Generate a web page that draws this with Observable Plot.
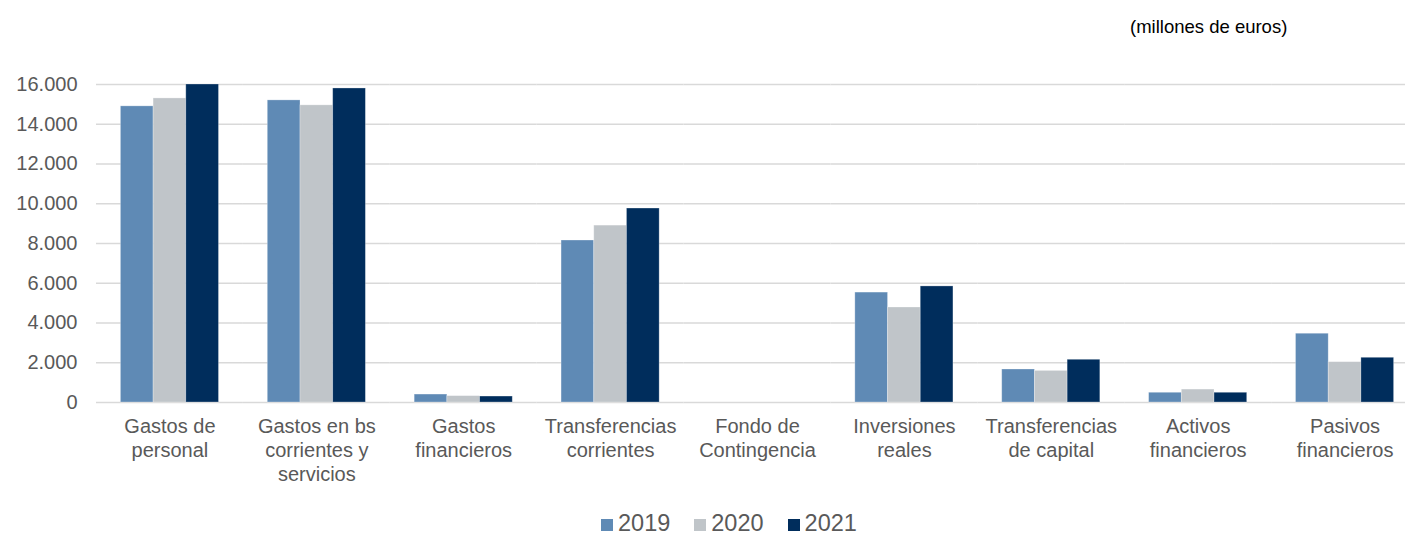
<!DOCTYPE html>
<html>
<head>
<meta charset="utf-8">
<script src="https://cdn.jsdelivr.net/npm/d3@7"></script>
<script src="https://cdn.jsdelivr.net/npm/@observablehq/plot@0.6"></script>
<style>
  html, body { margin: 0; padding: 0; background: #fff; }
  body { position: relative; width: 1405px; height: 533px; overflow: hidden; font-family: "Liberation Sans", Arial, sans-serif; color: #595959; }
  #note { position: absolute; left: 1130px; top: 16px; font-size: 18.5px; color: #000; white-space: nowrap; }
  #chart { position: absolute; left: 0; top: 50px; width: 1405px; overflow: hidden; }
  #chart svg { max-width: none !important; width: 1418px; height: 455px; }
  #legend { position: absolute; left: 601px; top: 510px; font-size: 23.5px; color: #595959; white-space: nowrap; }
  #legend span.item { display: inline-block; margin-right: 24px; }
  #legend span.sw { display: inline-block; width: 12px; height: 12px; margin-right: 5px; vertical-align: baseline; }
</style>
</head>
<body>
<div id="note">(millones de euros)</div>
<div id="chart"></div>
<div id="legend"></div>
<script>
const categories = [
  "Gastos de\npersonal",
  "Gastos en bs\ncorrientes y\nservicios",
  "Gastos\nfinancieros",
  "Transferencias\ncorrientes",
  "Fondo de\nContingencia",
  "Inversiones\nreales",
  "Transferencias\nde capital",
  "Activos\nfinancieros",
  "Pasivos\nfinancieros"
];
const years = ["2019", "2020", "2021"];
const values2019 = [14900, 15200, 400, 8150, 0, 5530, 1660, 490, 3460];
const values2020 = [15300, 14950, 320, 8900, 0, 4780, 1590, 650, 2030];
const values2021 = [16000, 15800, 300, 9760, 0, 5840, 2150, 490, 2250];
const yTicks = [0, 2000, 4000, 6000, 8000, 10000, 12000, 14000, 16000];
const colors = ["#5f8ab5", "#c0c5c9", "#002d5c"];

const series = [values2019, values2020, values2021];
const data = [];
categories.forEach((c, i) => {
  years.forEach((y, j) => data.push({cat: c, year: y, value: series[j][i]}));
});

const fmt = d3.formatLocale({decimal: ",", thousands: ".", grouping: [3], currency: ["", " €"]}).format(",");

const chart = Plot.plot({
  width: 1418,
  height: 455,
  marginTop: 34,
  marginBottom: 103,
  marginLeft: 96,
  marginRight: 0,
  style: {fontFamily: "Liberation Sans, Arial, sans-serif", color: "#595959", background: "#fff", maxWidth: "none"},
  fx: {domain: categories, padding: 0, round: false, label: null, axis: null},
  x: {domain: years, paddingInner: 0, paddingOuter: 0.746, round: false, axis: null},
  y: {domain: [0, 16000], axis: null},
  color: {domain: years, range: colors},
  marks: [
    Plot.ruleY(yTicks, {stroke: "#d9d9d9", strokeWidth: 1.5}),
    Plot.barY(data, {fx: "cat", x: "year", y: "value", fill: "year", stroke: "#ffffff", strokeOpacity: 0.35, strokeWidth: 0.8}),
    Plot.axisY(yTicks, {tickSize: 0, tickPadding: 19, tickFormat: fmt, fontSize: 20, fill: "#595959", label: null, style: {letterSpacing: "1px"}}),
    Plot.axisFx({anchor: "bottom", tickSize: 0, tickPadding: 13, fontSize: 20, fill: "#595959", label: null, lineHeight: 1.2, style: {letterSpacing: "0.6px"}})
  ]
});
document.getElementById("chart").appendChild(chart);

const legend = document.getElementById("legend");
years.forEach((y, j) => {
  const item = document.createElement("span");
  item.className = "item";
  const sw = document.createElement("span");
  sw.className = "sw";
  sw.style.background = colors[j];
  item.appendChild(sw);
  item.appendChild(document.createTextNode(y));
  legend.appendChild(item);
});
</script>
</body>
</html>
